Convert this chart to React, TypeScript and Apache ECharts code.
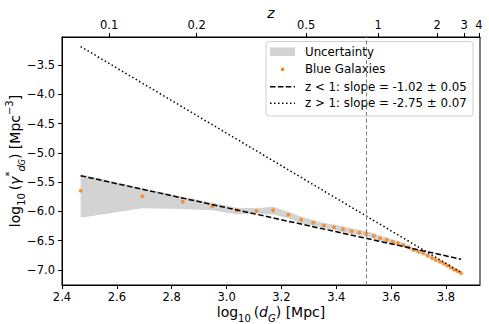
import React, { useEffect, useRef } from 'react';
import * as echarts from 'echarts';

// log10(d_G) [Mpc] of each bin
const dG = [2.468, 2.693, 2.840, 2.948, 3.037, 3.109, 3.170, 3.225, 3.272, 3.316, 3.355, 3.392, 3.424, 3.456, 3.484, 3.509, 3.537, 3.560, 3.584, 3.606, 3.625, 3.644, 3.664, 3.682, 3.700, 3.717, 3.733, 3.749, 3.763, 3.778, 3.792, 3.805, 3.818, 3.830, 3.843, 3.855];
// Blue Galaxies log10(gamma*)
const blueGalaxies = [-5.646, -5.742, -5.834, -5.911, -5.981, -5.993, -5.981, -6.056, -6.141, -6.193, -6.240, -6.271, -6.305, -6.339, -6.363, -6.380, -6.420, -6.459, -6.488, -6.517, -6.544, -6.573, -6.612, -6.659, -6.688, -6.715, -6.756, -6.795, -6.829, -6.858, -6.892, -6.927, -6.961, -6.995, -7.022, -7.056];
// Uncertainty band
const bandUpper = [-5.366, -5.605, -5.749, -5.853, -5.936, -5.947, -5.919, -6.005, -6.090, -6.146, -6.198, -6.225, -6.255, -6.290, -6.315, -6.335, -6.375, -6.415, -6.445, -6.478, -6.508, -6.540, -6.580, -6.628, -6.660, -6.690, -6.732, -6.772, -6.808, -6.838, -6.873, -6.909, -6.944, -6.979, -7.007, -7.040];
const bandLower = [-6.107, -5.947, -5.959, -5.981, -6.049, -6.035, -6.052, -6.117, -6.203, -6.244, -6.288, -6.318, -6.352, -6.385, -6.408, -6.425, -6.465, -6.500, -6.530, -6.556, -6.580, -6.606, -6.645, -6.690, -6.716, -6.740, -6.780, -6.818, -6.850, -6.878, -6.911, -6.945, -6.978, -7.011, -7.037, -7.072];
// fit lines (endpoints)
const fitX = [2.468, 3.855];
const fitLowZ = [-5.39, -6.815];
const fitHighZ = [-3.185, -7.04];
const zEqualsOne = 3.513;

const xTicks = [2.4, 2.6, 2.8, 3.0, 3.2, 3.4, 3.6, 3.8];
const yTicks = [-7.0, -6.5, -6.0, -5.5, -5.0, -4.5, -4.0, -3.5];
const zTickPos = [2.572, 2.891, 3.290, 3.553, 3.768, 3.866, 3.920];
const zTickLabels = ['0.1', '0.2', '0.5', '1', '2', '3', '4'];
const legendLabels = ['Uncertainty', 'Blue Galaxies', 'z < 1: slope = -1.02 ± 0.05', 'z > 1: slope = -2.75 ± 0.07'];

const FONT = 'DejaVu Sans';
const TICK_FS = 11.5;

const richStyles = {
  n: { fontSize: 14, fontFamily: FONT, color: '#000', lineHeight: 22 },
  i: { fontSize: 14, fontFamily: FONT, color: '#000', lineHeight: 22, fontStyle: 'italic' },
  s: { fontSize: 10, fontFamily: FONT, color: '#000', lineHeight: 12, verticalAlign: 'bottom' },
  si: { fontSize: 10, fontFamily: FONT, color: '#000', lineHeight: 12, verticalAlign: 'bottom', fontStyle: 'italic' },
  ss: { fontSize: 8, fontFamily: FONT, color: '#000', lineHeight: 8, verticalAlign: 'bottom', fontStyle: 'italic' },
  sp: { fontSize: 10, fontFamily: FONT, color: '#000', lineHeight: 12, verticalAlign: 'top' },
};

export default function App() {
  const ref = useRef<HTMLDivElement>(null);
  useEffect(() => {
    if (!ref.current) return;
    const chart = echarts.init(ref.current, undefined, { renderer: 'svg' });
    const axisCommon = {
      axisLine: { show: true, lineStyle: { color: '#000', width: 1 } },
      splitLine: { show: false },
      nameMoveOverlap: false,
    };
    const legX = 266, legY = 41.5;
    const rowY = [51.7, 69.3, 86.7, 103.3];
    const textStyle = (t: string, y: number) => ({
      type: 'text', x: 305, y,
      style: { text: t, fontSize: 11.8, fontFamily: FONT, fill: '#000', align: 'left', verticalAlign: 'middle' },
    });
    chart.setOption({
      animation: false,
      grid: { left: 62, right: 9, top: 37, bottom: 39, show: true, borderColor: '#000', borderWidth: 1, containLabel: false, outerBoundsMode: 'none' },
      xAxis: [
        {
          type: 'value', position: 'bottom', min: 2.4, max: 3.924,
          ...axisCommon,
          axisTick: { show: true, length: 4, customValues: xTicks, lineStyle: { color: '#000' } },
          axisLabel: { customValues: xTicks, formatter: (v: number) => v.toFixed(1), fontSize: TICK_FS, fontFamily: FONT, color: '#000', margin: 6 },
          name: '{n|log}{s|10}{n|\u2009(}{i|d}{si|G}{n|) [Mpc]}',
          nameLocation: 'middle', nameGap: 16,
          nameTextStyle: { rich: richStyles },
        },
        {
          type: 'value', position: 'top', min: 2.4, max: 3.924,
          ...axisCommon,
          axisTick: { show: true, length: 4, customValues: zTickPos, lineStyle: { color: '#000' } },
          axisLabel: {
            customValues: zTickPos,
            formatter: (v: number) => {
              const k = zTickPos.findIndex((p) => Math.abs(p - v) < 1e-6);
              return k >= 0 ? zTickLabels[k] : '';
            },
            fontSize: TICK_FS, fontFamily: FONT, color: '#000', margin: 6,
          },
          name: 'z', nameLocation: 'middle', nameGap: 17,
          nameTextStyle: { fontSize: 14, fontFamily: FONT, fontStyle: 'italic', color: '#000' },
        },
      ],
      yAxis: {
        type: 'value', min: -7.256, max: -3.022,
        ...axisCommon,
        axisTick: { show: true, length: 4, customValues: yTicks, lineStyle: { color: '#000' } },
        axisLabel: {
          customValues: yTicks,
          formatter: (v: number) => (v < 0 ? '\u2212' : '') + Math.abs(v).toFixed(1),
          fontSize: TICK_FS, fontFamily: FONT, color: '#000', margin: 7,
        },
        name: '{n|log}{s|10}{n|\u2009(}{i|γ}{sp|*}{si|d}{ss|G}{n|) [Mpc}{sp|\u22123}{n|]}',
        nameLocation: 'middle', nameGap: 36,
        nameTextStyle: { rich: richStyles },
      },
      series: [
        {
          type: 'custom', name: legendLabels[0],
          data: dG.map((x, i) => [x, bandUpper[i], bandLower[i]]),
          encode: { x: 0, y: [1, 2] },
          renderItem: (params: any, api: any) => {
            if (params.dataIndex !== 0) return null;
            const up = dG.map((x, i) => api.coord([x, bandUpper[i]]));
            const lo = dG.map((x, i) => api.coord([x, bandLower[i]])).reverse();
            return { type: 'polygon', shape: { points: up.concat(lo) }, style: { fill: '#d3d3d3' }, silent: true };
          },
          z: 1,
        },
        {
          type: 'scatter', name: legendLabels[1],
          data: dG.map((x, i) => [x, blueGalaxies[i]]),
          symbol: 'circle', symbolSize: 4,
          itemStyle: { color: '#ff7f0e' },
          z: 2,
        },
        {
          type: 'line', name: legendLabels[2],
          data: fitX.map((x, i) => [x, fitLowZ[i]]),
          symbol: 'none',
          lineStyle: { color: '#000', width: 1.5, type: [5.5, 2.4] },
          z: 3,
          markLine: {
            silent: true, symbol: 'none', label: { show: false },
            lineStyle: { color: '#808080', width: 1, type: [4, 2.5] },
            data: [{ xAxis: zEqualsOne }],
          },
        },
        {
          type: 'line', name: legendLabels[3],
          data: fitX.map((x, i) => [x, fitHighZ[i]]),
          symbol: 'none',
          lineStyle: { color: '#000', width: 1.5, type: [1.5, 2.5] },
          z: 3,
        },
      ],
      graphic: [
        {
          type: 'group', z: 100,
          children: [
            { type: 'rect', shape: { x: legX, y: legY, width: 207, height: 74.5, r: 3 }, style: { fill: '#fff', stroke: '#d0d0d0', lineWidth: 1 } },
            { type: 'rect', shape: { x: 270, y: rowY[0] - 4.3, width: 25, height: 8.6 }, style: { fill: '#d3d3d3' } },
            textStyle(legendLabels[0], rowY[0]),
            { type: 'circle', shape: { cx: 282.5, cy: rowY[1], r: 1.8 }, style: { fill: '#ff7f0e' } },
            textStyle(legendLabels[1], rowY[1]),
            { type: 'line', shape: { x1: 270, y1: rowY[2], x2: 295, y2: rowY[2] }, style: { stroke: '#000', lineWidth: 1.5, lineDash: [5.5, 2.4] } },
            textStyle(legendLabels[2], rowY[2]),
            { type: 'line', shape: { x1: 270, y1: rowY[3], x2: 295, y2: rowY[3] }, style: { stroke: '#000', lineWidth: 1.5, lineDash: [1.5, 2.5] } },
            textStyle(legendLabels[3], rowY[3]),
          ],
        },
      ],
    });
    return () => chart.dispose();
  }, []);
  return <div ref={ref} style={{ position: 'fixed', left: 0, top: 0, width: 489, height: 324, background: '#fff' }} />;
}
